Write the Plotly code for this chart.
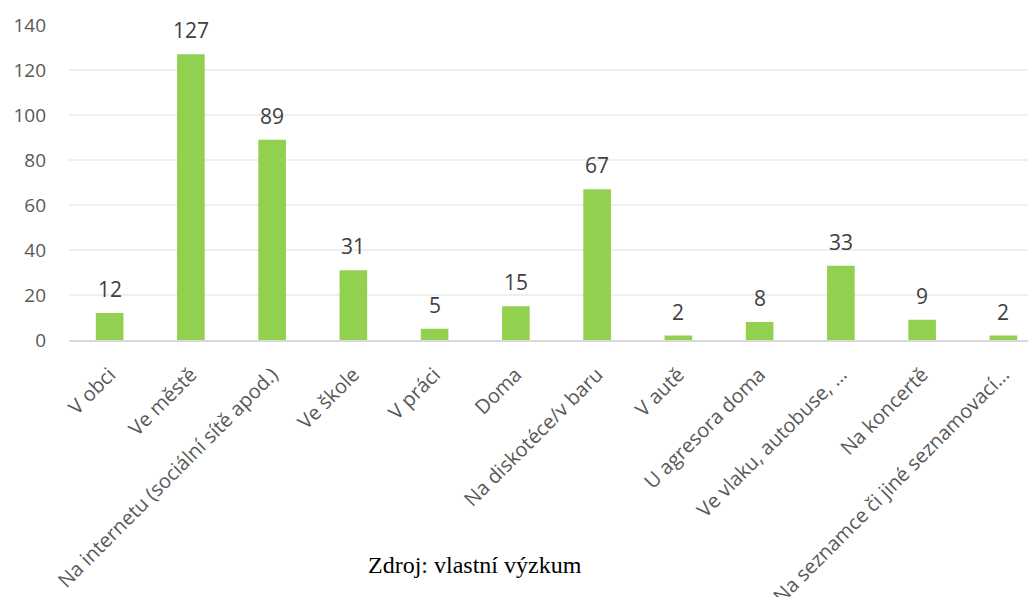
import plotly.graph_objects as go

# Kategorie a počty odpovědí
mista = ['V obci', 'Ve městě', 'Na internetu (sociální sítě apod.)', 'Ve škole', 'V práci',
         'Doma', 'Na diskotéce/v baru', 'V autě', 'U agresora doma', 'Ve vlaku, autobuse, …',
         'Na koncertě', 'Na seznamce či jiné seznamovací…']
pocty = [12, 127, 89, 31, 5, 15, 67, 2, 8, 33, 9, 2]
y_ticks = [0, 20, 40, 60, 80, 100, 120, 140]

fig = go.Figure()
fig.add_trace(go.Bar(x=mista, y=pocty, marker_color='#92D050', marker_line_width=0))

# Popisky hodnot nad sloupci
for m, p in zip(mista, pocty):
    fig.add_annotation(x=m, y=p, text=str(p), showarrow=False, yanchor='bottom', yshift=8,
                       font=dict(family='Open Sans, sans-serif', size=21, color='#404040'))

# Zdroj
fig.add_annotation(text='Zdroj: vlastní výzkum', xref='paper', yref='paper', x=0.416, y=-0.714,
                   showarrow=False, xanchor='center', yanchor='middle',
                   font=dict(family='Liberation Serif, Times New Roman, serif', size=24, color='black'))

fig.update_layout(
    width=1036, height=597,
    margin=dict(l=61, r=0, t=17, b=265, autoexpand=False),
    plot_bgcolor='white', paper_bgcolor='white',
    bargap=0.66, showlegend=False,
    font=dict(family='Open Sans, sans-serif', size=18, color='#595959'),
    xaxis=dict(range=[-0.5, 11.5], tickangle=-45, showgrid=False, showline=True, automargin=False,
               linecolor='#D9D9D9', linewidth=2, ticks='', ticklabelstandoff=13,
               tickfont=dict(size=20)),
    yaxis=dict(range=[0, 140], tickvals=y_ticks, showgrid=True, gridcolor='#EFEFEF', gridwidth=2,
               zeroline=False, showline=False, ticks='', ticklabelstandoff=22, automargin=False,
               tickfont=dict(size=19)),
)

fig.write_html('out.html')
